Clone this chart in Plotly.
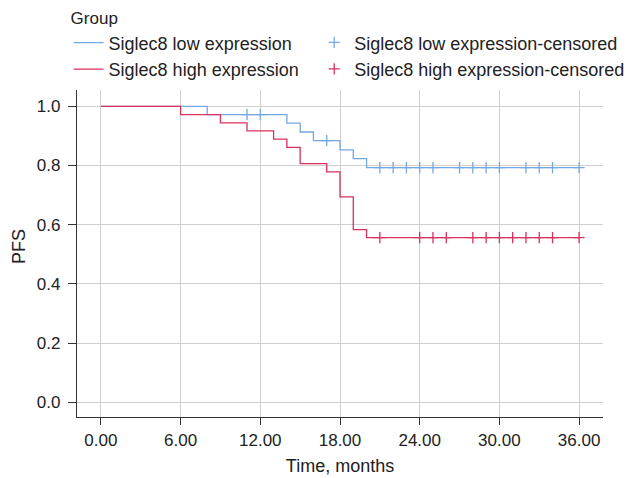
import plotly.graph_objects as go

# Kaplan-Meier step data (months, survival)
low_time = [0, 8, 14, 15, 16, 18, 19, 20, 36]
low_surv = [1.0, 0.972, 0.943, 0.913, 0.884, 0.853, 0.823, 0.793, 0.793]
low_cens_time = [11, 12, 17, 21, 22, 23, 24, 25, 27, 28, 29, 30, 32, 33, 34, 36]

high_time = [0, 6, 9, 11, 13, 14, 15, 17, 18, 19, 20, 36]
high_surv = [1.0, 0.972, 0.944, 0.917, 0.889, 0.861, 0.806, 0.778, 0.694, 0.583, 0.556, 0.556]
high_cens_time = [21, 24, 25, 26, 28, 29, 30, 31, 32, 33, 34, 36]

x_ticks = [0, 6, 12, 18, 24, 30, 36]
x_tick_labels = ["0.00", "6.00", "12.00", "18.00", "24.00", "30.00", "36.00"]
y_ticks = [0.0, 0.2, 0.4, 0.6, 0.8, 1.0]

BLUE = "#74a8e2"
RED = "#d8325e"


def surv_at(times, survs, t):
    s = survs[0]
    for ti, si in zip(times, survs):
        if ti <= t:
            s = si
    return s


low_cens_y = [surv_at(low_time, low_surv, t) for t in low_cens_time]
high_cens_y = [surv_at(high_time, high_surv, t) for t in high_cens_time]

fig = go.Figure()
fig.add_trace(go.Scatter(x=low_time, y=low_surv, mode="lines", line=dict(shape="hv", color=BLUE, width=1.3),
                         name="Siglec8 low expression", legend="legend"))
fig.add_trace(go.Scatter(x=low_cens_time, y=low_cens_y, mode="markers",
                         marker=dict(symbol="cross-thin", size=8, line=dict(color=BLUE, width=1.3)),
                         name="Siglec8 low expression-censored", legend="legend2"))
fig.add_trace(go.Scatter(x=high_time, y=high_surv, mode="lines", line=dict(shape="hv", color=RED, width=1.3),
                         name="Siglec8 high expression", legend="legend"))
fig.add_trace(go.Scatter(x=high_cens_time, y=high_cens_y, mode="markers",
                         marker=dict(symbol="cross-thin", size=8, line=dict(color=RED, width=1.3)),
                         name="Siglec8 high expression-censored", legend="legend2"))

fig.update_layout(
    width=635, height=478,
    margin=dict(l=77, r=32, t=90, b=61, autoexpand=False),
    paper_bgcolor="white", plot_bgcolor="white",
    font=dict(family="Liberation Sans, Arial, sans-serif", size=17, color="#222"),
    legend=dict(
        title=dict(text="Group", side="top", font=dict(size=17)),
        orientation="v", x=-0.016, xanchor="left", y=1.268, yanchor="top",
        itemwidth=30, tracegroupgap=0, font=dict(size=18), traceorder="normal",
        bgcolor="rgba(0,0,0,0)",
    ),
    legend2=dict(
        orientation="v", x=0.451, xanchor="left", y=1.201, yanchor="top",
        itemwidth=30, tracegroupgap=0, font=dict(size=18), traceorder="normal",
        bgcolor="rgba(0,0,0,0)",
    ),
    annotations=[dict(text="PFS", textangle=-90, xref="paper", yref="paper",
                      x=(19 - 77) / 526, y=0.52, xanchor="center", yanchor="middle",
                      showarrow=False, font=dict(size=18))],
)
fig.update_xaxes(
    range=[-1.8, 37.8], tickvals=x_ticks, ticktext=x_tick_labels, automargin=False,
    showgrid=True, gridcolor="#d0d0d0", gridwidth=1, zeroline=False,
    showline=True, linecolor="#333", linewidth=1.3, ticks="outside", ticklen=7, tickcolor="#333",
    title=dict(text="Time, months", standoff=10, font=dict(size=18)),
)
fig.update_yaxes(
    range=[-0.05, 1.055], tickvals=y_ticks, tickformat=".1f", automargin=False,
    showgrid=True, gridcolor="#d0d0d0", gridwidth=1, zeroline=False,
    showline=True, linecolor="#333", linewidth=1.3, ticks="outside", ticklen=8, tickcolor="#333",
    ticklabelstandoff=4,
)

fig.write_html("out.html", config={"displayModeBar": False},
               post_script="document.body.style.margin='0';document.body.style.overflow='hidden';")
